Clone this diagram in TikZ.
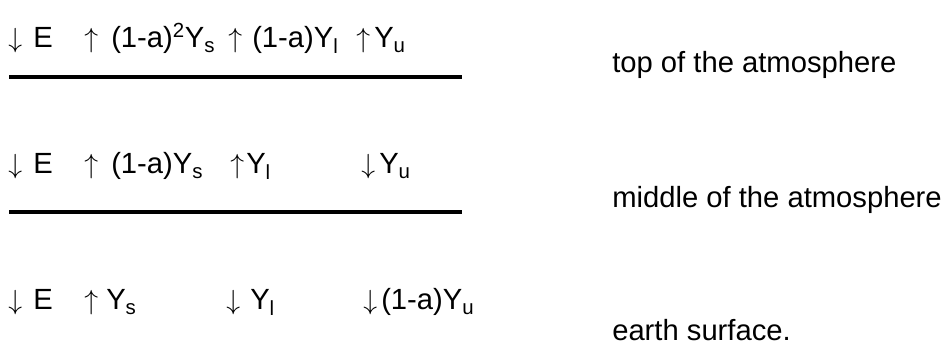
\documentclass[tikz,border=0pt]{standalone}
\usepackage{fontspec}
\setmainfont{Liberation Sans}
\usetikzlibrary{positioning}

\begin{document}
\begin{tikzpicture}[
  x=0.75pt, y=-0.75pt,
  every node/.style={font=\fontsize{21.9}{26}\selectfont, inner sep=0pt, anchor=base west},
  layerline/.style={line width=2.4pt}
]
\useasboundingbox (0,0) rectangle (946,345);

% top of the atmosphere
\node (e1)   at (8,48)   {$\downarrow$};
\node (e1t)  at (33,48)  {E};
\node (s1)   at (84,48)  {$\uparrow$};
\node (s1t)  at (111,48) {(1-a)\textsuperscript{2}Y\textsubscript{s}};
\node (l1)   at (228,48) {$\uparrow$};
\node (l1t)  at (252,48) {(1-a)Y\textsubscript{l}};
\node (u1)   at (356,48) {$\uparrow$};
\node (u1t)  at (374,48) {Y\textsubscript{u}};
\coordinate (top-a) at (9,77);
\coordinate (top-b) at (462,77);
\draw[layerline] (top-a) -- (top-b);
\node (toplabel) at (612,73) {top of the atmosphere};

% middle of the atmosphere
\node (e2)   at (8,174)   {$\downarrow$};
\node (e2t)  at (33,174)  {E};
\node (s2)   at (84,174)  {$\uparrow$};
\node (s2t)  at (111,174) {(1-a)Y\textsubscript{s}};
\node (l2)   at (230,174) {$\uparrow$};
\node (l2t)  at (246,174) {Y\textsubscript{l}};
\node (u2)   at (361,174) {$\downarrow$};
\node (u2t)  at (379,174) {Y\textsubscript{u}};
\coordinate (mid-a) at (9,212);
\coordinate (mid-b) at (462,212);
\draw[layerline] (mid-a) -- (mid-b);
\node (midlabel) at (612,208) {middle of the atmosphere};

% earth surface
\node (e3)   at (8,310)   {$\downarrow$};
\node (e3t)  at (33,310)  {E};
\node (s3)   at (84,310)  {$\uparrow$};
\node (s3t)  at (106,310) {Y\textsubscript{s}};
\node (l3)   at (226,310) {$\downarrow$};
\node (l3t)  at (250,310) {Y\textsubscript{l}};
\node (u3)   at (363,310) {$\downarrow$};
\node (u3t)  at (381,310) {(1-a)Y\textsubscript{u}};
\node (earthlabel) at (612,340) {earth surface.};

\end{tikzpicture}
\end{document}
